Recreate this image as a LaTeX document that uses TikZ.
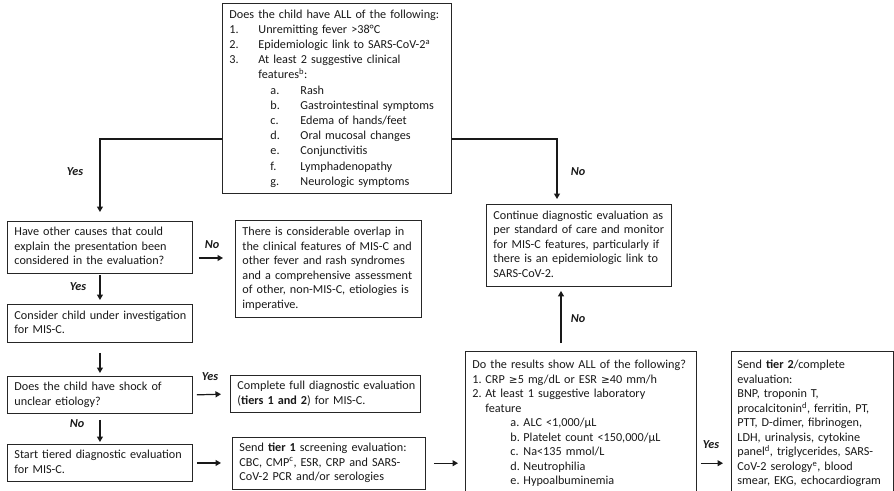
\documentclass[tikz,border=0pt]{standalone}
\usepackage{fontspec}
\setmainfont{Carlito}[WordSpace=0.6]
\newfontfamily\symfnt{DejaVu Sans}
\usetikzlibrary{arrows.meta}
\newcommand\bl[1]{\begin{tabular}{@{}l@{}}#1\end{tabular}}
\newcommand\gez{{\symfnt\fontsize{10.5}{10}\selectfont ≥}}
\begin{document}
\begin{tikzpicture}[x=1pt,y=-1pt,
  box/.style={draw=black!85, line width=0.9pt, anchor=north west, align=left,
    inner xsep=7pt, inner ysep=4pt, font=\fontsize{12.2}{14.5}\selectfont, text=black!90},
  arr/.style={draw=black!90, line width=1.2pt, -{Triangle[width=6pt,length=5.5pt]}},
  lab/.style={font=\fontsize{12.2}{14.5}\selectfont\bfseries\itshape, text=black!90}]
\useasboundingbox (0,0) rectangle (894,490);
\begin{scope}
\clip (0,0) rectangle (894,490);

\node[box, text width=215pt, minimum height=190pt, font=\fontsize{12.2}{15.2}\selectfont] (top) at (222,3) {\bl{%
Does the child have ALL of the following:\\
\makebox[29pt][l]{1.}Unremitting fever >38°C\\
\makebox[29pt][l]{2.}Epidemiologic link to SARS-CoV-2\textsuperscript{a}\\
\makebox[29pt][l]{3.}At least 2 suggestive clinical\\
\hspace*{29pt}features\textsuperscript{b}:\\
\hspace*{41pt}\makebox[30pt][l]{a.}Rash\\
\hspace*{41pt}\makebox[30pt][l]{b.}Gastrointestinal symptoms\\
\hspace*{41pt}\makebox[30pt][l]{c.}Edema of hands/feet\\
\hspace*{41pt}\makebox[30pt][l]{d.}Oral mucosal changes\\
\hspace*{41pt}\makebox[30pt][l]{e.}Conjunctivitis\\
\hspace*{41pt}\makebox[30pt][l]{f.}Lymphadenopathy\\
\hspace*{41pt}\makebox[30pt][l]{g.}Neurologic symptoms}};

\node[box, text width=171pt, minimum height=51pt] (A) at (7,221) {\bl{%
Have other causes that could\\
explain the presentation been\\
considered in the evaluation?}};

\node[box, text width=172pt, minimum height=97pt] (B) at (235,220) {\bl{%
There is considerable overlap in\\
the clinical features of MIS-C and\\
other fever and rash syndromes\\
and a comprehensive assessment\\
of other, non-MIS-C, etiologies is\\
imperative.}};

\node[box, text width=171pt, minimum height=38pt] (C) at (7,304) {\bl{%
Consider child under investigation\\
for MIS-C.}};

\node[box, text width=171pt, minimum height=34pt] (D) at (7,376) {\bl{%
Does the child have shock of\\
unclear etiology?}};

\node[box, text width=176pt, minimum height=36pt] (E) at (230,375) {\bl{%
Complete full diagnostic evaluation\\
(\textbf{tiers 1 and 2}) for MIS-C.}};

\node[box, text width=171pt, minimum height=34pt] (F) at (7,444) {\bl{%
Start tiered diagnostic evaluation\\
for MIS-C.}};

\node[box, text width=179pt, minimum height=50pt] (G) at (232,437) {\bl{%
Send \textbf{tier 1} screening evaluation:\\
CBC, CMP\textsuperscript{c}, ESR, CRP and SARS-\\
CoV-2 PCR and/or serologies}};

\node[box, text width=217pt, minimum height=145pt] (H) at (465,351) {\bl{%
Do the results show ALL of the following?\\
\makebox[13pt][l]{1.}CRP \gez5 mg/dL or ESR \gez40 mm/h\\
\makebox[13pt][l]{2.}At least 1 suggestive laboratory\\
\hspace*{13pt}feature\\
\hspace*{38pt}\makebox[13pt][l]{a.}ALC <1,000/µL\\
\hspace*{38pt}\makebox[13pt][l]{b.}Platelet count <150,000/µL\\
\hspace*{38pt}\makebox[13pt][l]{c.}Na<135 mmol/L\\
\hspace*{38pt}\makebox[13pt][l]{d.}Neutrophilia\\
\hspace*{38pt}\makebox[13pt][l]{e.}Hypoalbuminemia}};

\node[box, inner xsep=6pt, text width=150pt, minimum height=145pt] (I) at (731,351) {\bl{%
Send \textbf{tier 2}/complete\\
evaluation:\\
BNP, troponin T,\\
procalcitonin\textsuperscript{d}, ferritin, PT,\\
PTT, D-dimer, fibrinogen,\\
LDH, urinalysis, cytokine\\
panel\textsuperscript{d}, triglycerides, SARS-\\
CoV-2 serology\textsuperscript{e}, blood\\
smear, EKG, echocardiogram}};

\node[box, text width=171pt, minimum height=82pt] (cont) at (486,204) {\bl{%
Continue diagnostic evaluation as\\
per standard of care and monitor\\
for MIS-C features, particularly if\\
there is an epidemiologic link to\\
SARS-CoV-2.}};

\coordinate (yb) at (0,139);
\coordinate (xr) at (557,0);
\coordinate (xu) at (561,0);
\coordinate (ya) at (0,258);

\draw[arr, shorten >=9pt] (top.west |- yb) -| (A.north);
\draw[arr, shorten >=5pt] (top.east |- yb) -| (cont.north -| xr);
\draw[arr, shorten <=6pt, shorten >=12pt] (A.east |- ya) -- (B.west |- ya);
\draw[arr, shorten <=2pt, shorten >=4pt] (A.south) -- (C.north);
\draw[arr, shorten <=10pt, shorten >=3pt] (C.south) -- (D.north);
\draw[arr, shorten <=4pt, shorten >=9pt] (D.east) -- (E.west);
\draw[arr, shorten <=6pt, shorten >=2pt] (D.south) -- (F.north);
\draw[arr, shorten <=4pt, shorten >=11pt] (F.east) -- (G.west |- F.east);
\draw[arr, shorten <=8pt, shorten >=7pt] (G.east) -- (H.west |- G.east);
\draw[arr, shorten <=4pt, shorten >=8pt] (H.east |- G.east) -- (I.west |- G.east);
\draw[arr, shorten <=8pt, shorten >=4pt] (H.north -| xu) -- (cont.south -| xu);

\node[lab] (l1) at (75,172) {Yes};
\node[lab] (l2) at (578,172) {No};
\node[lab] (l3) at (212,245) {No};
\node[lab] (l4) at (78,287) {Yes};
\node[lab] (l5) at (210,377) {Yes};
\node[lab] (l6) at (77,424) {No};
\node[lab] (l7) at (711,445) {Yes};
\node[lab] (l8) at (578,319) {No};
\end{scope}
\end{tikzpicture}
\end{document}
